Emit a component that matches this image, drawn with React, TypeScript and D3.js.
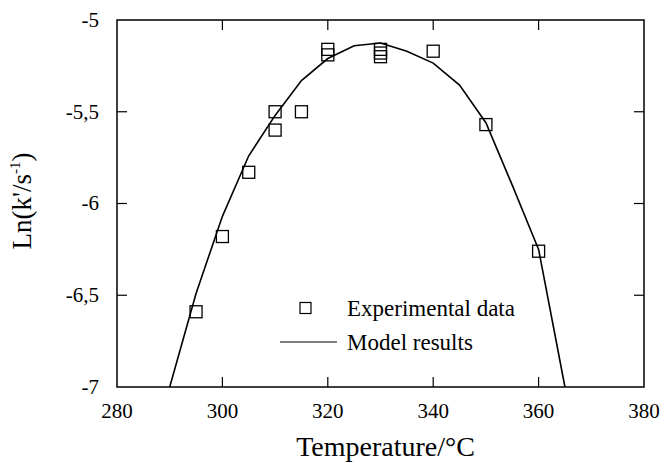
import { useEffect, useRef } from 'react';
import * as d3 from 'd3';

// experimental points (temperature in °C, ln k')
const expTemp = [295, 300, 305, 310, 310, 315, 320, 320, 330, 330, 330, 340, 350, 360];
const expLn = [-6.59, -6.18, -5.83, -5.5, -5.6, -5.5, -5.16, -5.19, -5.16, -5.18, -5.2, -5.17, -5.57, -6.26];

// model curve
const modelTemp = [290, 295, 300, 305, 310, 315, 320, 325, 330, 335, 340, 345, 350, 355, 360, 365];
const modelLn = [-7.0, -6.49, -6.07, -5.74, -5.52, -5.33, -5.21, -5.14, -5.125, -5.17, -5.235, -5.355, -5.56, -5.9, -6.25, -7.0];

const xTicks = [280, 300, 320, 340, 360, 380];
const yTicks = [-5, -5.5, -6, -6.5, -7];

const FONT = '"Liberation Serif", "Times New Roman", serif';

function App() {
  const ref = useRef<SVGSVGElement>(null);

  useEffect(() => {
    const svg = d3.select(ref.current);
    svg.selectAll('*').remove();

    const margin = { top: 20, right: 20, bottom: 76, left: 117 };
    const width = 664 - margin.left - margin.right;
    const height = 463 - margin.top - margin.bottom;

    const x = d3.scaleLinear().domain([280, 380]).range([0, width]);
    const y = d3.scaleLinear().domain([-7, -5]).range([height, 0]);
    const fmt = (d: number) => String(d).replace('.', ',');

    const g = svg.append('g').attr('transform', `translate(${margin.left},${margin.top})`);

    // frame
    g.append('rect')
      .attr('width', width)
      .attr('height', height)
      .attr('fill', 'none')
      .attr('stroke', '#000')
      .attr('stroke-width', 1.5);

    // inward ticks on all four sides
    const tl = 10;
    const inner = (arr: number[]) => arr.slice(1, -1);
    const tick = (cls: string, data: number[], f: (sel: any) => any) =>
      f(g.selectAll('.' + cls).data(data).enter().append('line'))
        .attr('stroke', '#000')
        .attr('stroke-width', 1.2);

    tick('tb', inner(xTicks), (s) =>
      s.attr('x1', (d: number) => x(d)).attr('x2', (d: number) => x(d)).attr('y1', height).attr('y2', height - tl)
    );
    tick('tt', inner(xTicks), (s) =>
      s.attr('x1', (d: number) => x(d)).attr('x2', (d: number) => x(d)).attr('y1', 0).attr('y2', tl)
    );
    tick('tl', inner(yTicks), (s) =>
      s.attr('x1', 0).attr('x2', tl).attr('y1', (d: number) => y(d)).attr('y2', (d: number) => y(d))
    );
    tick('tr', inner(yTicks), (s) =>
      s.attr('x1', width).attr('x2', width - tl).attr('y1', (d: number) => y(d)).attr('y2', (d: number) => y(d))
    );

    // tick labels
    g.selectAll('.xl')
      .data(xTicks)
      .enter()
      .append('text')
      .attr('x', (d) => x(d))
      .attr('y', height + 31)
      .attr('text-anchor', 'middle')
      .attr('font-family', FONT)
      .attr('font-size', 21)
      .text((d) => fmt(d));
    g.selectAll('.yl')
      .data(yTicks)
      .enter()
      .append('text')
      .attr('x', -18)
      .attr('y', (d) => y(d))
      .attr('dy', '0.33em')
      .attr('text-anchor', 'end')
      .attr('font-family', FONT)
      .attr('font-size', 21)
      .text((d) => fmt(d));

    // axis titles
    g.append('text')
      .attr('x', width / 2 + 5)
      .attr('y', height + 69)
      .attr('text-anchor', 'middle')
      .attr('font-family', FONT)
      .attr('font-size', 28)
      .text('Temperature/°C');

    const yt = g
      .append('text')
      .attr('transform', `translate(-86,${201 - margin.top}) rotate(-90)`)
      .attr('text-anchor', 'middle')
      .attr('font-family', FONT)
      .attr('font-size', 27);
    yt.append('tspan').text("Ln(k'/s");
    yt.append('tspan').attr('font-size', 15).attr('dy', -11).text('-1');
    yt.append('tspan').attr('dy', 11).text(')');

    // model line
    const line = d3
      .line<number>()
      .x((d) => x(d))
      .y((d, i) => y(modelLn[i]));
    g.append('path')
      .datum(modelTemp)
      .attr('d', line)
      .attr('fill', 'none')
      .attr('stroke', '#000')
      .attr('stroke-width', 1.6);

    // experimental squares
    const s = 12;
    g.selectAll('.pt')
      .data(expTemp)
      .enter()
      .append('rect')
      .attr('x', (d) => x(d) - s / 2)
      .attr('y', (d, i) => y(expLn[i]) - s / 2)
      .attr('width', s)
      .attr('height', s)
      .attr('fill', 'none')
      .attr('stroke', '#000')
      .attr('stroke-width', 1.3);

    // legend
    const lg = svg.append('g');
    lg.append('rect')
      .attr('x', 300)
      .attr('y', 302.5)
      .attr('width', 11)
      .attr('height', 11)
      .attr('fill', 'none')
      .attr('stroke', '#000')
      .attr('stroke-width', 1.2);
    lg.append('text')
      .attr('x', 347)
      .attr('y', 308)
      .attr('dy', '0.33em')
      .attr('font-family', FONT)
      .attr('font-size', 23)
      .text('Experimental data');
    lg.append('line')
      .attr('x1', 280)
      .attr('x2', 337)
      .attr('y1', 342)
      .attr('y2', 342)
      .attr('stroke', '#000')
      .attr('stroke-width', 1.2);
    lg.append('text')
      .attr('x', 347)
      .attr('y', 342)
      .attr('dy', '0.33em')
      .attr('font-family', FONT)
      .attr('font-size', 23)
      .text('Model results');
  }, []);

  return (
    <svg
      ref={ref}
      width={664}
      height={463}
      style={{ position: 'absolute', left: 0, top: 0, background: '#fff' }}
    />
  );
}

export default App;
